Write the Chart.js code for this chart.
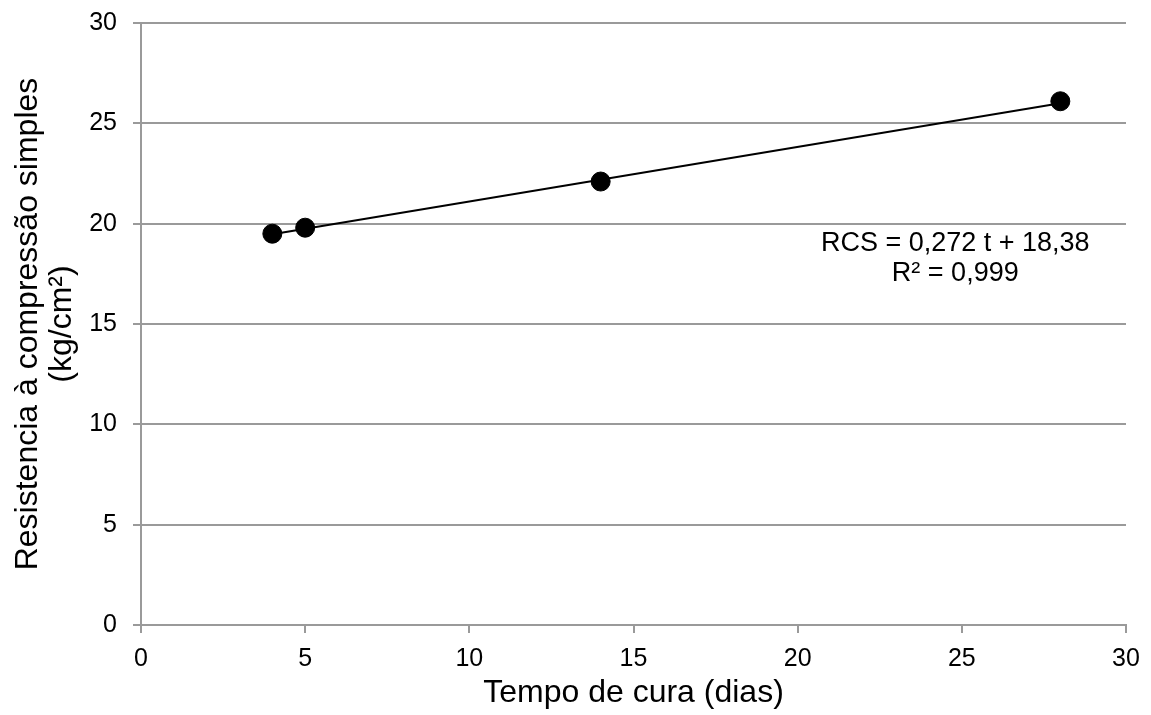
<!DOCTYPE html>
<html>
<head>
<meta charset="utf-8">
<script src="https://cdn.jsdelivr.net/npm/chart.js@4"></script>
<style>
  html, body { margin: 0; padding: 0; background: #fff; }
  #wrap { width: 1151px; height: 715px; }
</style>
</head>
<body>
<div id="wrap"><canvas id="rcs-chart"></canvas></div>
<script>
// measured values
const curingDays = [4, 5, 14, 28];
const strength = [19.5, 19.8, 22.1, 26.1];

// trend line end points, as drawn
const trendDays = [4, 28];
const trendValues = [19.47, 26.0];

const equationLines = ["RCS = 0,272 t + 18,38", "R\u00b2 = 0,999"];
const equationAnchor = [24.8, 19.0];

const xTitle = "Tempo de cura (dias)";
const yTitle = ["Resistencia \u00e0 compress\u00e3o simples", "(kg/cm\u00b2)"];

const gridColor = "#9a9a9a";
const fontFamily = "'Liberation Sans', Arial, sans-serif";

// writes the regression equation like the spreadsheet label
const equationLabel = {
  id: "equationLabel",
  afterDatasetsDraw(chart) {
    const ctx = chart.ctx;
    const x = chart.scales.x.getPixelForValue(equationAnchor[0]);
    const y = chart.scales.y.getPixelForValue(equationAnchor[1]);
    ctx.save();
    ctx.font = "27px " + fontFamily;
    ctx.fillStyle = "#000";
    ctx.textAlign = "center";
    ctx.textBaseline = "middle";
    equationLines.forEach(function(line, i) {
      ctx.fillText(line, x, y + i * 30);
    });
    ctx.restore();
  }
};

const ctx = document.getElementById("rcs-chart").getContext("2d");
new Chart(ctx, {
  type: "scatter",
  data: {
    datasets: [
      {
        label: "trend",
        data: trendDays.map((d, i) => ({ x: d, y: trendValues[i] })),
        showLine: true,
        borderColor: "#000",
        borderWidth: 2,
        pointRadius: 0,
        order: 2
      },
      {
        label: "RCS",
        data: curingDays.map((d, i) => ({ x: d, y: strength[i] })),
        backgroundColor: "#000",
        borderColor: "#000",
        pointRadius: 9.5,
        pointHoverRadius: 9.5,
        order: 1
      }
    ]
  },
  options: {
    responsive: true,
    maintainAspectRatio: false,
    animation: false,
    layout: { padding: { top: 23, right: 25, left: 0, bottom: 0 } },
    plugins: {
      legend: { display: false },
      tooltip: { enabled: false }
    },
    scales: {
      x: {
        type: "linear",
        min: 0,
        max: 30,
        afterFit: function(scale) {
          scale.height = 90;
          scale.paddingLeft = 0;
          scale.paddingRight = 0;
        },
        ticks: {
          stepSize: 5,
          color: "#000",
          padding: 11,
          font: { family: fontFamily, size: 25 }
        },
        grid: {
          drawOnChartArea: false,
          drawTicks: true,
          tickLength: 8,
          color: gridColor,
          lineWidth: 2
        },
        border: { color: gridColor, width: 2 },
        title: {
          display: true,
          text: xTitle,
          color: "#000",
          font: { family: fontFamily, size: 32 },
          padding: { top: 0, bottom: 3 }
        }
      },
      y: {
        min: 0,
        max: 30,
        afterFit: function(scale) {
          scale.width = 141;
          scale.paddingTop = 0;
          scale.paddingBottom = 0;
        },
        ticks: {
          stepSize: 5,
          color: "#000",
          padding: 16,
          font: { family: fontFamily, size: 25 }
        },
        grid: {
          drawTicks: true,
          tickLength: 8,
          color: gridColor,
          lineWidth: 2
        },
        border: { color: gridColor, width: 2 },
        title: {
          display: true,
          text: yTitle,
          color: "#000",
          font: { family: fontFamily, size: 32, lineHeight: 1.07 },
          padding: { top: 11, bottom: 0 }
        }
      }
    }
  },
  plugins: [equationLabel]
});
</script>
</body>
</html>
